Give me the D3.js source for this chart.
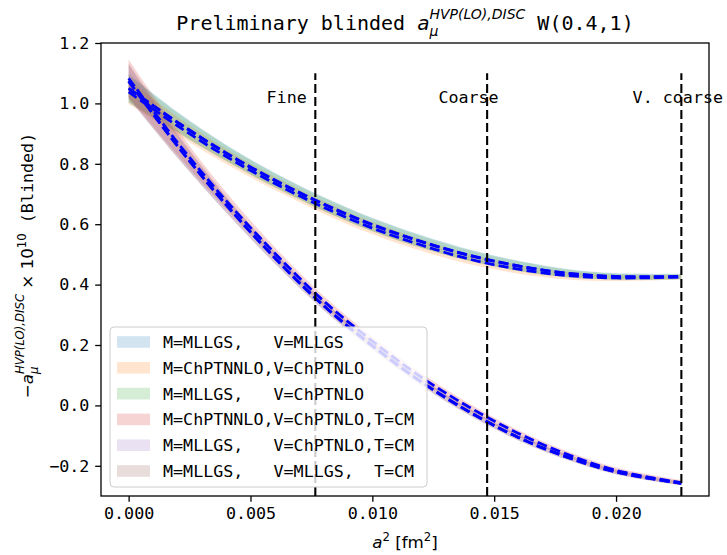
<!DOCTYPE html>
<html>
<head>
<meta charset="utf-8">
<script src="https://cdn.jsdelivr.net/npm/d3@7"></script>
<style>
  body { margin: 0; background: #fff; }
  text { white-space: pre; }
</style>
</head>
<body>
<svg id="chart" width="727" height="555"></svg>
<script>
// ---- data -------------------------------------------------------------
// lattice spacing squared [fm^2] at which the fit curves are evaluated
const a2 = [0, 0.002, 0.004, 0.006, 0.008, 0.010, 0.012, 0.014, 0.016, 0.018, 0.020, 0.02268];

// fits without the T=CM correction
const valMLLGS_MLLGS     = [1.050, 0.938, 0.836, 0.746, 0.667, 0.599, 0.543, 0.497, 0.462, 0.438, 0.427, 0.427];
const errMLLGS_MLLGS     = [0.048, 0.034, 0.027, 0.024, 0.023, 0.022, 0.021, 0.019, 0.017, 0.014, 0.011, 0.009];
const valChPT_ChPT       = [1.038, 0.926, 0.824, 0.735, 0.656, 0.587, 0.531, 0.484, 0.451, 0.430, 0.422, 0.425];
const errChPT_ChPT       = [0.040, 0.030, 0.025, 0.022, 0.021, 0.020, 0.019, 0.017, 0.015, 0.013, 0.010, 0.008];
const valMLLGS_ChPT      = [1.049, 0.937, 0.835, 0.745, 0.666, 0.598, 0.542, 0.496, 0.461, 0.437, 0.426, 0.426];
const errMLLGS_ChPT      = [0.044, 0.032, 0.026, 0.023, 0.022, 0.021, 0.020, 0.018, 0.016, 0.013, 0.010, 0.008];

// fits with T=CM
const valChPT_ChPT_CM    = [1.083, 0.871, 0.678, 0.504, 0.346, 0.213, 0.094, -0.007, -0.093, -0.162, -0.215, -0.256];
const errChPT_ChPT_CM    = [0.062, 0.042, 0.028, 0.020, 0.016, 0.014, 0.013, 0.012, 0.011, 0.010, 0.009, 0.008];
const valMLLGS_ChPT_CM   = [1.073, 0.859, 0.664, 0.488, 0.330, 0.197, 0.078, -0.023, -0.107, -0.172, -0.221, -0.258];
const errMLLGS_ChPT_CM   = [0.055, 0.038, 0.025, 0.018, 0.015, 0.013, 0.012, 0.011, 0.010, 0.009, 0.008, 0.007];
const valMLLGS_MLLGS_CM  = [1.074, 0.860, 0.665, 0.489, 0.331, 0.198, 0.079, -0.022, -0.106, -0.171, -0.220, -0.258];
const errMLLGS_MLLGS_CM  = [0.058, 0.040, 0.026, 0.019, 0.015, 0.013, 0.012, 0.011, 0.010, 0.009, 0.008, 0.007];

const seriesLabels = [
  "M=MLLGS,   V=MLLGS",
  "M=ChPTNNLO,V=ChPTNLO",
  "M=MLLGS,   V=ChPTNLO",
  "M=ChPTNNLO,V=ChPTNLO,T=CM",
  "M=MLLGS,   V=ChPTNLO,T=CM",
  "M=MLLGS,   V=MLLGS,  T=CM"
];
const seriesColors = ["#1f77b4", "#ff7f0e", "#2ca02c", "#d62728", "#9467bd", "#8c564b"];
const seriesVals = [valMLLGS_MLLGS, valChPT_ChPT, valMLLGS_ChPT, valChPT_ChPT_CM, valMLLGS_ChPT_CM, valMLLGS_MLLGS_CM];
const seriesErrs = [errMLLGS_MLLGS, errChPT_ChPT, errMLLGS_ChPT, errChPT_ChPT_CM, errMLLGS_ChPT_CM, errMLLGS_MLLGS_CM];

// ensembles marked by vertical lines
const ensembleNames = ["Fine", "Coarse", "V. coarse"];
const ensembleA2 = [0.00766, 0.01471, 0.02268];

const xTicks = [0.000, 0.005, 0.010, 0.015, 0.020];
const yTicks = [-0.2, 0.0, 0.2, 0.4, 0.6, 0.8, 1.0, 1.2];

// ---- layout -----------------------------------------------------------
const svg = d3.select("#chart");
const L = 101, R = 709, T = 43, B = 496;
const MONO = "'DejaVu Sans Mono', monospace";
const SANS = "'DejaVu Sans', sans-serif";
const FS = 16.7;

const xmin = -0.001134, xmax = 0.023814;
const x = d3.scaleLinear().domain([xmin, xmax]).range([L, R]);
const y = d3.scaleLinear().domain([-0.3, 1.2]).range([B, T]);

svg.append("rect").attr("width", 727).attr("height", 555).attr("fill", "#fff");

svg.append("defs").append("clipPath").attr("id", "plotclip")
  .append("rect").attr("x", L).attr("y", T).attr("width", R - L).attr("height", B - T);

const plot = svg.append("g").attr("clip-path", "url(#plotclip)");

// uncertainty bands
const area = d3.area()
  .x(d => x(d.a2)).y0(d => y(d.v - d.e)).y1(d => y(d.v + d.e))
  .curve(d3.curveCatmullRom);
seriesVals.forEach((vals, i) => {
  const pts = a2.map((t, k) => ({ a2: t, v: vals[k], e: seriesErrs[i][k] }));
  plot.append("path").attr("d", area(pts))
    .attr("fill", seriesColors[i]).attr("fill-opacity", 0.2);
});

// central values
const line = d3.line().x(d => x(d.a2)).y(d => y(d.v)).curve(d3.curveCatmullRom);
seriesVals.forEach(vals => {
  const pts = a2.map((t, k) => ({ a2: t, v: vals[k] }));
  plot.append("path").attr("d", line(pts))
    .attr("fill", "none").attr("stroke", "#0000ff")
    .attr("stroke-width", 2.8).attr("stroke-dasharray", "10,4.2");
});

// ensemble markers
ensembleA2.forEach((t, i) => {
  plot.append("line")
    .attr("x1", x(t)).attr("x2", x(t))
    .attr("y1", y(-0.3)).attr("y2", y(1.1))
    .attr("stroke", "#000").attr("stroke-width", 2.1)
    .attr("stroke-dasharray", "9,4");
  svg.append("text")
    .attr("x", x(t - 0.002)).attr("y", y(1.0))
    .style("font-family", MONO).style("font-size", FS + "px")
    .text(ensembleNames[i]);
});

// ---- axes -------------------------------------------------------------
const xAxis = svg.append("g").attr("transform", `translate(0,${B})`)
  .call(d3.axisBottom(x).tickValues(xTicks).tickFormat(d3.format(".3f"))
        .tickSize(5.8).tickPadding(5.8));
const yAxis = svg.append("g").attr("transform", `translate(${L},0)`)
  .call(d3.axisLeft(y).tickValues(yTicks)
        .tickFormat(d => d3.format(".1f")(d).replace("-", "\u2212"))
        .tickSize(5.8).tickPadding(5.8));
[xAxis, yAxis].forEach(g => {
  g.select(".domain").remove();
  g.selectAll(".tick line").attr("stroke", "#000").attr("stroke-width", 1.3);
  g.selectAll(".tick text").attr("fill", "#000")
    .style("font-family", MONO).style("font-size", FS + "px");
});

svg.append("rect").attr("x", L).attr("y", T).attr("width", R - L).attr("height", B - T)
  .attr("fill", "none").attr("stroke", "#000").attr("stroke-width", 1.3);

// ---- rich text (mathtext-like) ----------------------------------------
// parts: {t, f, s, i, dy, stack}; stack=true starts at the previous part's x
function richText(parent, parts, cx, cy) {
  const g = parent.append("g");
  let cursor = 0, prevStart = 0;
  parts.forEach(p => {
    const el = g.append("text")
      .attr("y", p.dy || 0)
      .attr("fill", "#000")
      .style("font-family", p.f).style("font-size", p.s + "px")
      .style("font-style", p.i ? "italic" : "normal")
      .text(p.t);
    const w = el.node().getComputedTextLength();
    const start = p.stack ? prevStart : cursor;
    el.attr("x", start);
    cursor = Math.max(cursor, start + w);
    prevStart = start;
  });
  g.attr("transform", `translate(${cx - cursor / 2},${cy})`);
  return g;
}

// title
const TS = 20, TSS = 14;
richText(svg, [
  { t: "Preliminary blinded ", f: MONO, s: TS },
  { t: "a", f: SANS, s: TS, i: true },
  { t: "\u03bc", f: SANS, s: TSS, i: true, dy: 5.5 },
  { t: "HVP(LO),DISC", f: SANS, s: TSS, i: true, dy: -11, stack: true },
  { t: " W(0.4,1)", f: MONO, s: TS }
], (L + R) / 2, 30);

// x label
richText(svg, [
  { t: "a", f: SANS, s: FS, i: true },
  { t: "2", f: SANS, s: 11.7, dy: -7 },
  { t: " [fm", f: SANS, s: FS },
  { t: "2", f: SANS, s: 11.7, dy: -7 },
  { t: "]", f: SANS, s: FS }
], (L + R) / 2, 548);

// y label
const yl = svg.append("g").attr("transform", `translate(33,${(T + B) / 2 - 4}) rotate(-90)`);
richText(yl, [
  { t: "\u2212", f: SANS, s: FS },
  { t: "a", f: SANS, s: FS, i: true },
  { t: "\u03bc", f: SANS, s: 11.7, i: true, dy: 5 },
  { t: "HVP(LO),DISC", f: SANS, s: 11.7, i: true, dy: -9, stack: true },
  { t: " \u00d7 10", f: SANS, s: FS },
  { t: "10", f: SANS, s: 11.7, dy: -7.5 },
  { t: " (Blinded)", f: MONO, s: FS }
], 0, 0);

// ---- legend -----------------------------------------------------------
const lg = svg.append("g");
lg.append("rect").attr("x", 110).attr("y", 327).attr("width", 317).attr("height", 160)
  .attr("rx", 4).attr("fill", "#fff").attr("fill-opacity", 0.8)
  .attr("stroke", "#cccccc").attr("stroke-width", 1);
seriesLabels.forEach((lab, i) => {
  const cy = 342 + i * 25.8;
  lg.append("rect").attr("x", 117).attr("y", cy - 5.8).attr("width", 33).attr("height", 11.6)
    .attr("fill", seriesColors[i]).attr("fill-opacity", 0.2);
  lg.append("text").attr("x", 163).attr("y", cy).attr("dy", "0.36em")
    .style("font-family", MONO).style("font-size", FS + "px")
    .attr("fill", "#000").text(lab);
});
</script>
</body>
</html>
